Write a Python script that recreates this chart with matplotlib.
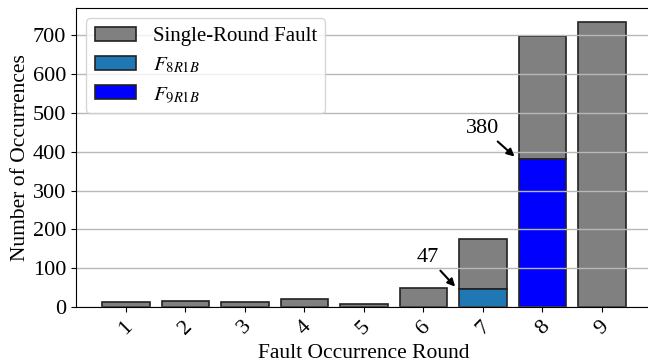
import numpy as np
import matplotlib
matplotlib.use('Agg')
import matplotlib.pyplot as plt

plt.rcParams['font.family'] = ['Liberation Serif', 'DejaVu Serif']
plt.rcParams['mathtext.fontset'] = 'stix'
plt.rcParams['font.size'] = 15

# fault counts per occurrence round
rounds = [1, 2, 3, 4, 5, 6, 7, 8, 9]
total = np.array([13, 15, 12, 20, 8, 49, 175, 697, 733])
f8r1b = np.array([0, 0, 0, 0, 0, 0, 47, 0, 0])
f9r1b = np.array([0, 0, 0, 0, 0, 0, 0, 380, 0])
single = total - f8r1b - f9r1b

fig = plt.figure(figsize=(6.48, 3.63), dpi=100)
ax = fig.add_axes([0.117, 0.154, 0.889, 0.824])

x = np.array(rounds)
edge = dict(edgecolor='#222222', linewidth=1.2, width=0.8)

m8 = f8r1b > 0
m9 = f9r1b > 0
ax.bar(x, single, bottom=f8r1b + f9r1b, color='gray',
       label='Single-Round Fault', **edge)
ax.bar(x[m8], f8r1b[m8], color='#1f77b4', label='$F_{8R1B}$', **edge)
ax.bar(x[m9], f9r1b[m9], color='blue', label='$F_{9R1B}$', **edge)

ax.yaxis.grid(True, color='#b8b8b8', linewidth=1)
ax.set_yticks(np.arange(0, 800, 100))
ax.set_xticks(rounds)
ax.set_xticklabels([str(r) for r in rounds], rotation=45)
ax.tick_params(labelsize=16)
ax.set_xlabel('Fault Occurrence Round', fontsize=15.5)
ax.set_ylabel('Number of Occurrences', fontsize=15.5, labelpad=2)

arrow = dict(arrowstyle='-|>', color='black', lw=1.5, mutation_scale=11,
             shrinkA=1, shrinkB=1)
ax.annotate(str(f8r1b[6]), xy=(6.55, f8r1b[6] + 3), xytext=(6.08, 128),
            ha='center', va='center', fontsize=16, arrowprops=arrow)
ax.annotate(str(f9r1b[7]), xy=(7.55, f9r1b[7] + 5), xytext=(7.0, 460),
            ha='center', va='center', fontsize=16, arrowprops=arrow)

ax.legend(loc='upper left', fontsize=15, handlelength=2.0, labelspacing=0.45)

fig.savefig('out.png', dpi=100)
